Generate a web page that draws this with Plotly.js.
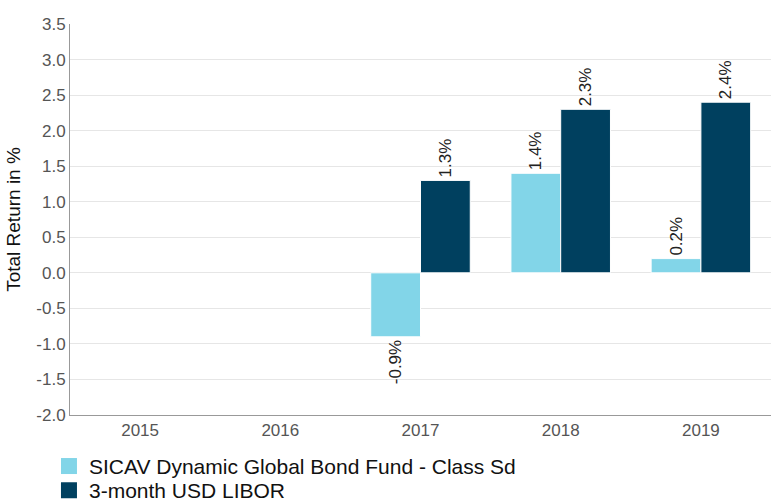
<!DOCTYPE html>
<html>
<head>
<meta charset="utf-8">
<script src="https://cdn.plot.ly/plotly-3.0.1.min.js"></script>
<style>html,body{margin:0;padding:0;background:#fff;}#chart{width:771px;height:503px;}</style>
</head>
<body>
<div id="chart"></div>
<script>
const years = ['2015', '2016', '2017', '2018', '2019'];
const fundName = 'SICAV Dynamic Global Bond Fund - Class Sd';
const fundValues = [null, null, -0.9, 1.4, 0.2];
const liborName = '3-month USD LIBOR';
const liborValues = [null, null, 1.3, 2.3, 2.4];
const yTickVals = [-2.0, -1.5, -1.0, -0.5, 0.0, 0.5, 1.0, 1.5, 2.0, 2.5, 3.0, 3.5];
const yTickText = ['-2.0', '-1.5', '-1.0', '-0.5', '0.0', '0.5', '1.0', '1.5', '2.0', '2.5', '3.0', '3.5'];

const fundColor = '#82D5E8';
const liborColor = '#00405F';
const font = 'Arial, "Liberation Sans", sans-serif';

function barTrace(name, vals, color) {
  return {
    type: 'bar', x: years, y: vals, name: name, showlegend: false,
    marker: {color: color, line: {color: '#ffffff', width: 1}},
    text: vals.map(v => v === null ? '' : v.toFixed(1) + '%'),
    textposition: 'outside', textangle: -90,
    constraintext: 'none', cliponaxis: false,
    outsidetextfont: {family: font, size: 17, color: '#222222'},
    hoverinfo: 'skip'
  };
}
function legendTrace(name, color, legendId) {
  return {
    type: 'scatter', mode: 'markers', x: [null], y: [null], name: name,
    legend: legendId,
    marker: {symbol: 'square', size: 20, color: color}, hoverinfo: 'skip'
  };
}

const data = [
  barTrace(fundName, fundValues, fundColor),
  barTrace(liborName, liborValues, liborColor),
  legendTrace(fundName, fundColor, 'legend'),
  legendTrace(liborName, liborColor, 'legend2')
];

const legendBase = {
  orientation: 'v', x: -0.03, xanchor: 'left', yanchor: 'top',
  font: {family: font, size: 21, color: '#111111'},
  tracegroupgap: 0, itemsizing: 'trace', bgcolor: 'rgba(0,0,0,0)'
};

const layout = {
  width: 771, height: 503,
  margin: {l: 70, r: 0, t: 24, b: 88, pad: 0, autoexpand: false},
  paper_bgcolor: '#ffffff', plot_bgcolor: '#ffffff',
  font: {family: font, size: 17, color: '#555555'},
  barmode: 'group', bargap: 0.29, bargroupgap: 0,
  xaxis: {
    type: 'category', categoryorder: 'array', categoryarray: years,
    showgrid: false, showline: true, linecolor: '#999999', linewidth: 1,
    ticks: '', tickfont: {family: font, size: 17, color: '#555555'},
    zeroline: false, fixedrange: true, automargin: false
  },
  yaxis: {
    range: [-2.0, 3.5], tickvals: yTickVals, ticktext: yTickText,
    showgrid: true, gridcolor: '#e6e6e6', gridwidth: 1,
    showline: true, linecolor: '#999999', linewidth: 1,
    zeroline: false, ticks: '', ticklen: 0,
    tickfont: {family: font, size: 17, color: '#555555'},
    title: {text: 'Total Return in %', font: {family: font, size: 19, color: '#111111'}, standoff: 10},
    fixedrange: true, automargin: false
  },
  showlegend: true,
  legend: Object.assign({}, legendBase, {y: -0.079}),
  legend2: Object.assign({}, legendBase, {y: -0.141}),
  hovermode: false
};

Plotly.newPlot('chart', data, layout, {displayModeBar: false, staticPlot: true});
</script>
</body>
</html>
